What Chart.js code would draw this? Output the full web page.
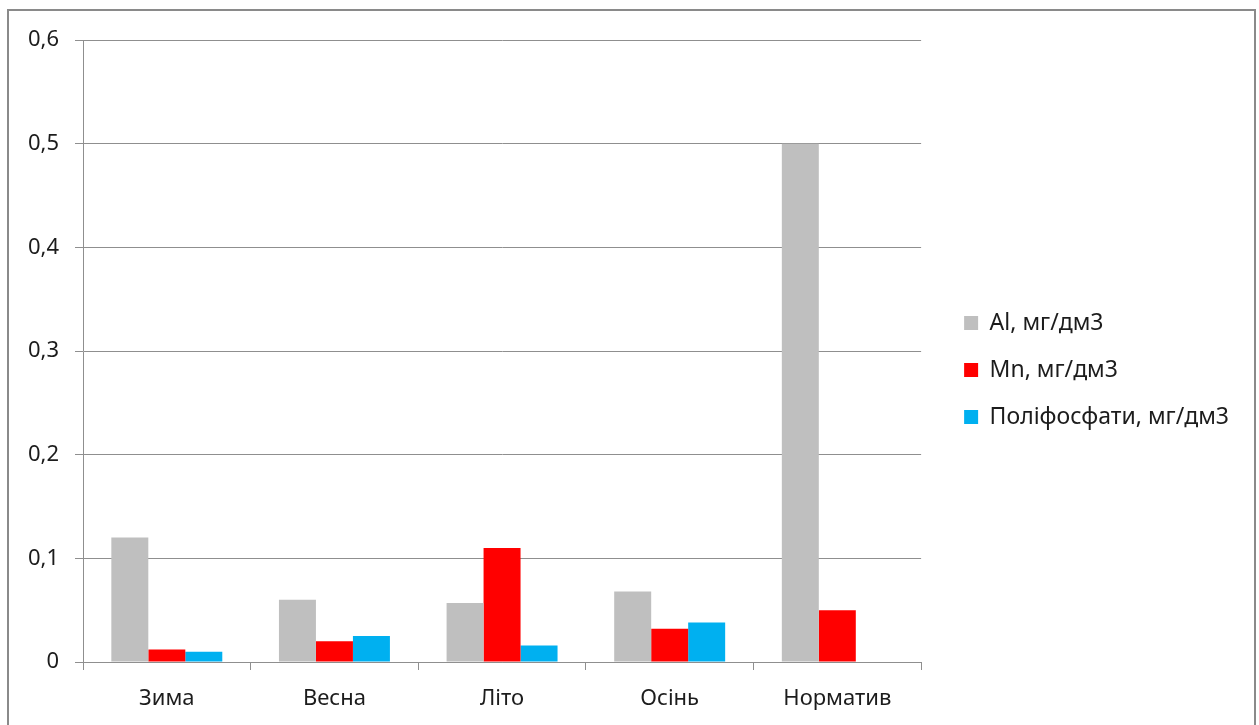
<!DOCTYPE html>
<html>
<head>
<meta charset="utf-8">
<script src="https://cdn.jsdelivr.net/npm/chart.js@4.4.1/dist/chart.umd.min.js"></script>
<style>
    html, body { margin: 0; padding: 0; background: #fff; overflow: hidden; }
    #wrap { position: relative; width: 1259px; height: 725px; }
    #frame {
        position: absolute; left: 7px; top: 9px; width: 1249px; height: 740px;
        border: 2px solid #8a8a8a; box-sizing: border-box; pointer-events: none;
    }
    canvas { position: absolute; left: 0; top: 0; }
</style>
</head>
<body>
<div id="wrap">
    <canvas id="chart" width="1259" height="725"></canvas>
    <div id="frame"></div>
</div>
<script>
const seasons = ['Зима', 'Весна', 'Літо', 'Осінь', 'Норматив'];
const aluminium = [0.12, 0.06, 0.057, 0.068, 0.5];
const manganese = [0.012, 0.02, 0.11, 0.032, 0.05];
const polyphosphates = [0.01, 0.025, 0.016, 0.038, null];
const seriesNames = ['Al, мг/дм3', 'Mn, мг/дм3', 'Поліфосфати, мг/дм3'];

(function () {
    const font = { family: '"Noto Sans", sans-serif', size: 22 };
    const legendFont = { family: '"Noto Sans", sans-serif', size: 23 };
    const lineGray = '#8f8f8f';
    const textColor = '#1c1c1c';

    const makeSet = (label, data, color) => ({
        label,
        data,
        backgroundColor: color,
        borderWidth: 0,
        categoryPercentage: 0.662,
        barPercentage: 1
    });

    new Chart(document.getElementById('chart').getContext('2d'), {
        type: 'bar',
        data: {
            labels: seasons,
            datasets: [
                makeSet(seriesNames[0], aluminium, '#bfbfbf'),
                makeSet(seriesNames[1], manganese, '#ff0000'),
                makeSet(seriesNames[2], polyphosphates, '#00b0f0')
            ]
        },
        options: {
            responsive: false,
            animation: false,
            layout: { padding: { top: 40, bottom: 11, left: 0, right: 20 } },
            scales: {
                x: {
                    afterFit: (scale) => { scale.height = 52; },
                    grid: {
                        offset: true,
                        drawOnChartArea: false,
                        drawTicks: true,
                        tickLength: 8,
                        color: lineGray
                    },
                    border: { color: lineGray },
                    ticks: { color: textColor, font, padding: 16 }
                },
                y: {
                    min: 0,
                    max: 0.6,
                    afterFit: (scale) => { scale.width = 83; },
                    grid: { color: lineGray, tickLength: 8 },
                    border: { color: lineGray },
                    ticks: {
                        stepSize: 0.1,
                        color: textColor,
                        font,
                        padding: 16,
                        callback: (v) => (Math.round(v * 10) / 10).toString().replace('.', ',')
                    }
                },
                // empty axis, only keeps a gap between the plot and the legend
                gap: {
                    type: 'linear',
                    position: 'right',
                    afterFit: (scale) => { scale.width = 19; },
                    grid: { display: false },
                    border: { display: false },
                    ticks: { display: false }
                }
            },
            plugins: {
                legend: {
                    position: 'right',
                    fullSize: false,
                    maxWidth: 400,
                    // blank title pushes the legend entries a little lower
                    title: { display: true, text: '', font: { size: 10 }, padding: 13 },
                    labels: {
                        color: textColor,
                        font: legendFont,
                        boxWidth: 14,
                        boxHeight: 14,
                        padding: 24
                    }
                },
                tooltip: { enabled: false }
            }
        }
    });
})();
</script>
</body>
</html>
